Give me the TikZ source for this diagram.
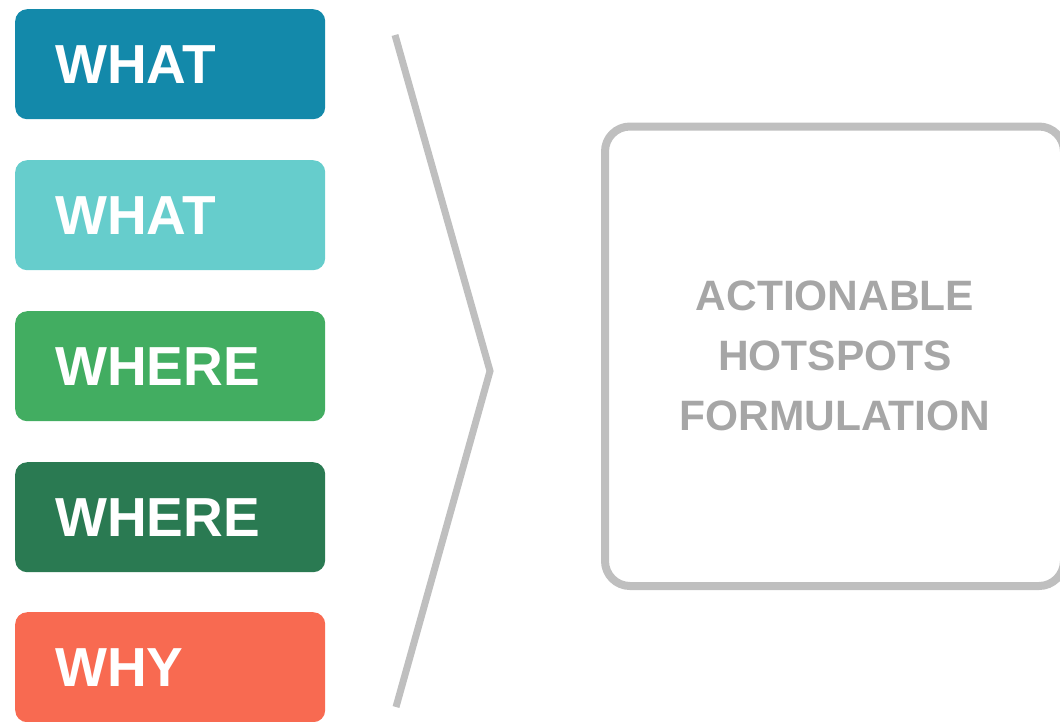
\documentclass[tikz,border=0pt]{standalone}
\usepackage{fontspec}
\setmainfont{Liberation Sans}
\definecolor{cwhatA}{HTML}{1389AA}
\definecolor{cwhatB}{HTML}{66CDCC}
\definecolor{cwhereA}{HTML}{42AD61}
\definecolor{cwhereB}{HTML}{2A7A52}
\definecolor{cwhy}{HTML}{F86A51}
\definecolor{cline}{HTML}{BFBFBF}
\definecolor{ctext}{HTML}{A6A6A6}
\tikzset{
  tagbox/.style={rectangle, rounded corners=12pt, minimum width=310pt, minimum height=110pt, inner sep=0pt, anchor=north west, draw=none},
  taglabel/.style={anchor=base west, inner sep=0pt, text=white, font=\bfseries\fontsize{55}{66}\selectfont},
  goalbox/.style={rectangle, rounded corners=25pt, draw=cline, line width=8pt, minimum width=459pt, minimum height=459.5pt, inner sep=0pt},
  goaltext/.style={anchor=base, inner sep=0pt, text=ctext, font=\bfseries\fontsize{42.5}{51}\selectfont},
  chevron/.style={draw=cline, line width=7pt, line join=miter}
}
\begin{document}
\begin{tikzpicture}[x=1pt,y=-1pt]
\useasboundingbox (0,0) rectangle (1060,721);
\node[tagbox, fill=cwhatA] (b1) at (15,9) {};
\node[tagbox, fill=cwhatB] (b2) at (15,160) {};
\node[tagbox, fill=cwhereA] (b3) at (15,311) {};
\node[tagbox, fill=cwhereB] (b4) at (15,462) {};
\node[tagbox, fill=cwhy] (b5) at (15,612) {};
\node[taglabel] (l1) at (55,83) {WHAT};
\node[taglabel] (l2) at (55,234) {WHAT};
\node[taglabel] (l3) at (55,385) {WHERE};
\node[taglabel] (l4) at (55,536) {WHERE};
\node[taglabel] (l5) at (55,686) {WHY};
\coordinate (ctop) at (395,35);
\coordinate (ctip) at (490,371);
\coordinate (cbot) at (396,707);
\draw[chevron] (ctop) -- (ctip) -- (cbot);
\node[goalbox] (goal) at (834.5,356.25) {};
\node[goaltext] (t1) at (835,310) {ACTIONABLE};
\node[goaltext] (t2) at (835,370) {HOTSPOTS};
\node[goaltext] (t3) at (835,430) {FORMULATION};
\end{tikzpicture}
\end{document}
